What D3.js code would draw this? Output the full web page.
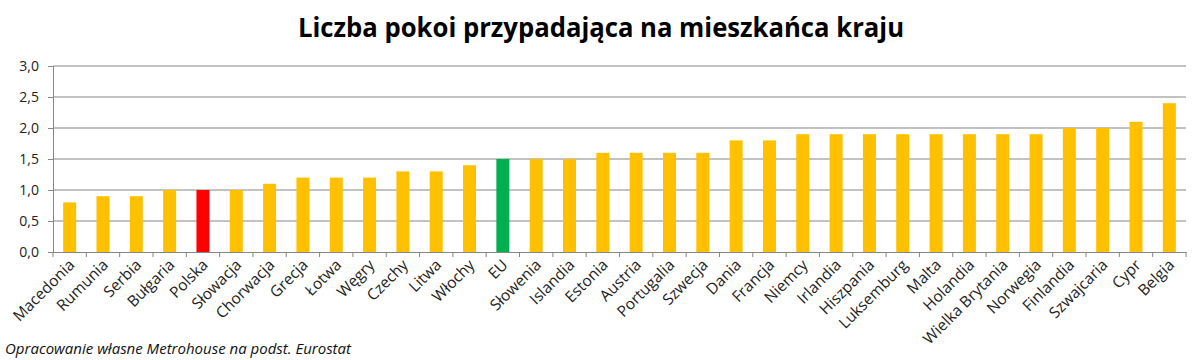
<!DOCTYPE html>
<html>
<head>
<meta charset="utf-8">
<script src="https://cdn.jsdelivr.net/npm/d3@7"></script>
<style>
  body { margin: 0; background: #fff; }
  svg { display: block; }
</style>
</head>
<body>
<svg width="1200" height="360"></svg>
<script>
// dane
const countries = ["Macedonia", "Rumunia", "Serbia", "Bułgaria", "Polska", "Słowacja", "Chorwacja",
  "Grecja", "Łotwa", "Węgry", "Czechy", "Litwa", "Włochy", "EU", "Słowenia", "Islandia", "Estonia",
  "Austria", "Portugalia", "Szwecja", "Dania", "Francja", "Niemcy", "Irlandia", "Hiszpania",
  "Luksemburg", "Malta", "Holandia", "Wielka Brytania", "Norwegia", "Finlandia", "Szwajcaria", "Cypr", "Belgia"]
const rooms = [0.8, 0.9, 0.9, 1.0, 1.0, 1.0, 1.1, 1.2, 1.2, 1.2, 1.3, 1.3, 1.4, 1.5, 1.5, 1.5, 1.6,
  1.6, 1.6, 1.6, 1.8, 1.8, 1.9, 1.9, 1.9, 1.9, 1.9, 1.9, 1.9, 1.9, 2.0, 2.0, 2.1, 2.4]
const yTicks = [0, 0.5, 1.0, 1.5, 2.0, 2.5, 3.0]

const highlight = { "Polska": "#ff0000", "EU": "#00b050" }
const baseColour = "#ffc000"

const svg = d3.select("svg"),
    plotLeft = 53, plotRight = 1186, plotTop = 66, plotBottom = 252

const x = d3.scaleBand().domain(countries).range([plotLeft, plotRight]).padding(0)
const y = d3.scaleLinear().domain([0, 3]).range([plotBottom, plotTop])
const fmt = d => d.toFixed(1).replace(".", ",")

// tytuł
svg.append("text")
    .attr("x", 601).attr("y", 37)
    .attr("text-anchor", "middle")
    .attr("font-family", "Open Sans, sans-serif")
    .attr("font-weight", "bold")
    .attr("font-size", 26)
    .attr("textLength", 606)
    .attr("lengthAdjust", "spacingAndGlyphs")
    .attr("fill", "#000")
    .text("Liczba pokoi przypadająca na mieszkańca kraju")

// linie siatki
svg.append("g").selectAll("line")
    .data(yTicks.filter(d => d > 0))
    .enter().append("line")
    .attr("x1", plotLeft).attr("x2", plotRight)
    .attr("y1", d => y(d)).attr("y2", d => y(d))
    .attr("stroke", "#868686").attr("stroke-width", 1)

// oś Y
const yAxis = svg.append("g")
    .attr("transform", "translate(" + plotLeft + ",0)")
    .call(d3.axisLeft(y).tickValues(yTicks).tickFormat(fmt).tickSize(5).tickPadding(9))
yAxis.select(".domain").attr("stroke", "#868686")
yAxis.selectAll(".tick line").attr("stroke", "#868686")
yAxis.selectAll("text")
    .attr("font-family", "Open Sans, sans-serif")
    .attr("font-size", 14)
    .attr("fill", "#222")

// słupki
svg.append("g").selectAll("rect")
    .data(countries)
    .enter().append("rect")
    .attr("x", (d) => x(d) + x.bandwidth() / 2 - 6.5)
    .attr("width", 13)
    .attr("y", (d, i) => y(rooms[i]))
    .attr("height", (d, i) => plotBottom - y(rooms[i]))
    .attr("fill", d => highlight[d] || baseColour)

// oś X
const xAxis = svg.append("g")
    .attr("transform", "translate(0," + plotBottom + ")")
    .call(d3.axisBottom(x).tickSize(0).tickPadding(0))
xAxis.select(".domain").attr("stroke", "#868686")
xAxis.selectAll(".tick text")
    .attr("font-family", "Open Sans, sans-serif")
    .attr("font-size", 15.5)
    .attr("fill", "#222")
    .attr("text-anchor", "end")
    .attr("dy", 0)
    .attr("transform", "translate(6,14) rotate(-45)")

// znaczniki między kategoriami
svg.append("g").selectAll("line")
    .data(d3.range(countries.length + 1))
    .enter().append("line")
    .attr("x1", i => plotLeft + i * x.step()).attr("x2", i => plotLeft + i * x.step())
    .attr("y1", plotBottom).attr("y2", plotBottom + 5)
    .attr("stroke", "#868686")

// źródło
svg.append("text")
    .attr("x", 5).attr("y", 354)
    .attr("font-family", "Open Sans, sans-serif")
    .attr("font-style", "italic")
    .attr("font-size", 15)
    .attr("fill", "#111")
    .text("Opracowanie własne Metrohouse na podst. Eurostat")
</script>
</body>
</html>
